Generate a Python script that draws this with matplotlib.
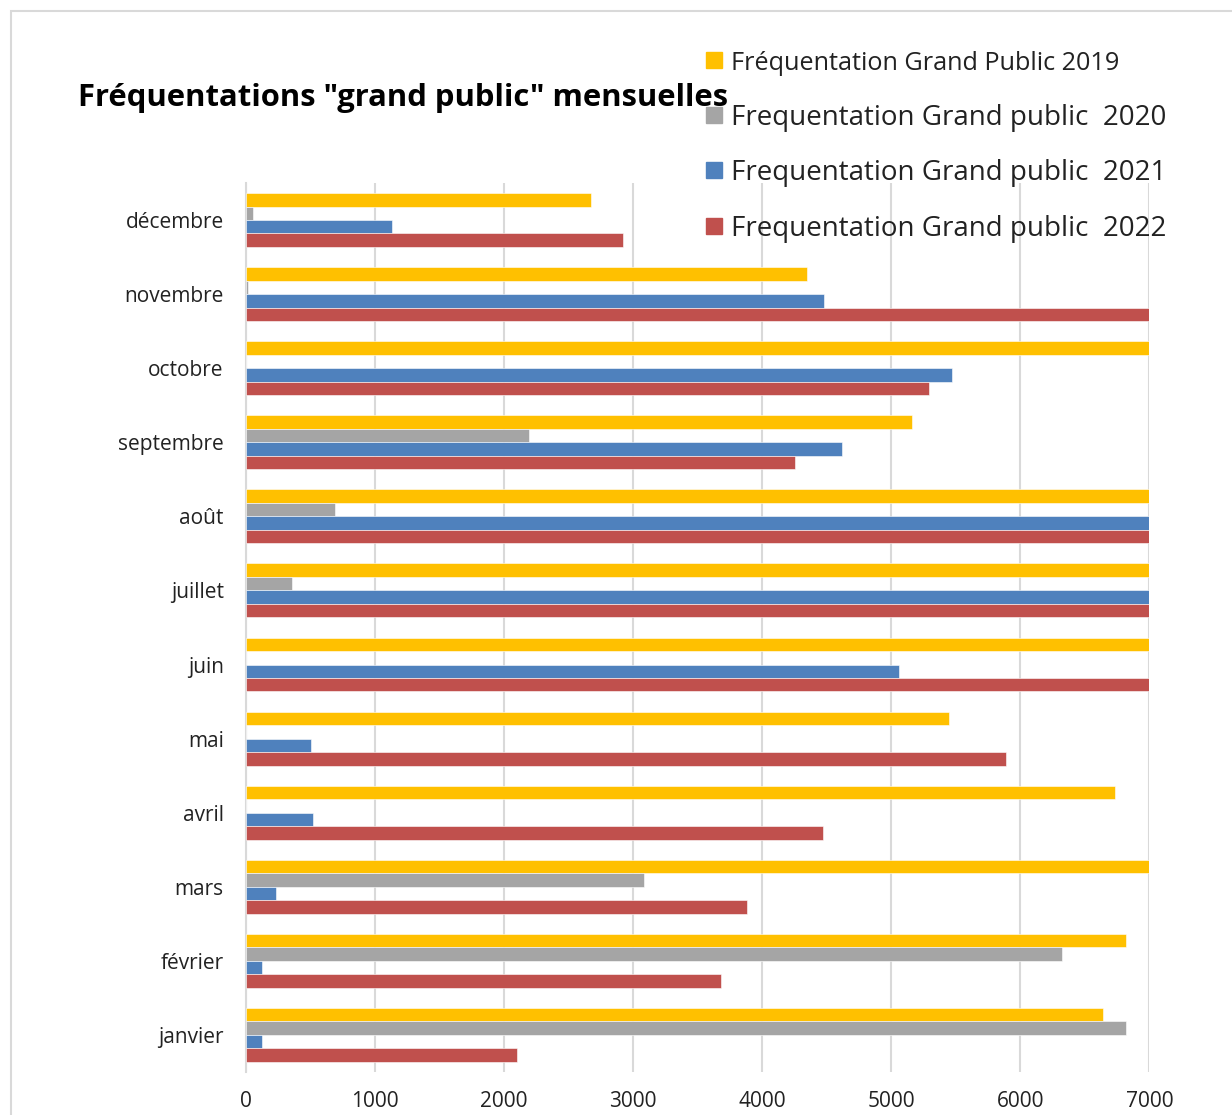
import matplotlib.pyplot as plt
import matplotlib.patches as mpatches
import numpy as np

months = ["janvier", "février", "mars", "avril", "mai", "juin",
          "juillet", "août", "septembre", "octobre", "novembre", "décembre"]

# values beyond 7000 are cut off by the axis in the reference
gp_2019 = [6640, 6820, 8200, 6730, 5450, 8900, 9800, 10200, 5160, 7900, 4350, 2670]
gp_2020 = [6820, 6320, 3080, 0, 0, 0, 360, 690, 2190, 0, 15, 55]
gp_2021 = [120, 120, 235, 520, 500, 5060, 8100, 8600, 4620, 5470, 4480, 1130]
gp_2022 = [2100, 3680, 3880, 4470, 5890, 7600, 8800, 9300, 4250, 5290, 7300, 2920]

series = [
    ("Fréquentation Grand Public 2019", gp_2019, "#FFC000"),
    ("Frequentation Grand public  2020", gp_2020, "#A5A5A5"),
    ("Frequentation Grand public  2021", gp_2021, "#4F81BD"),
    ("Frequentation Grand public  2022", gp_2022, "#C0504D"),
]

plt.rcParams['font.family'] = ['Open Sans', 'DejaVu Sans']

fig = plt.figure(figsize=(12.32, 11.15), dpi=100)
fig.patches.append(mpatches.Rectangle((11 / 1232, -0.01), 1.0, 1 - 11 / 1115 + 0.01,
                                      transform=fig.transFigure, fill=False,
                                      edgecolor="#D9D9D9", linewidth=1.5))

ax = fig.add_axes([0.1997, 0.0386, 0.7333, 0.7973])

y = np.arange(len(months))
h = 0.182
for i, (label, vals, color) in enumerate(series):
    # 2019 on top of each group, 2022 at the bottom
    offset = (1.5 - i) * h
    ax.barh(y + offset, vals, height=h, color=color, edgecolor="white",
            linewidth=0.4, label=label, zorder=3)

ax.set_xlim(0, 7000)
ax.set_ylim(-0.5, len(months) - 0.5)
ax.set_xticks(np.arange(0, 7001, 1000))
ax.set_yticks(y)
ax.set_yticklabels(months)
ax.tick_params(axis="both", length=0, labelsize=15, colors="#222222")
ax.tick_params(axis="x", pad=14)
ax.tick_params(axis="y", pad=16)
ax.grid(axis="x", color="#D9D9D9", linewidth=1.5, zorder=0)
for s in ["top", "right", "bottom"]:
    ax.spines[s].set_visible(False)
ax.spines["left"].set_color("#D9D9D9")
ax.spines["left"].set_linewidth(1.5)

fig.text(78 / 1232, 1 - 98 / 1115, 'Fréquentations "grand public" mensuelles',
         fontsize=22.3, fontweight="bold", va="center", ha="left")

# legend drawn as separate entries since text sizes differ
leg_y = [60, 115, 170, 226]
leg_size = [18.2, 20, 20, 20]
for (label, vals, color), yy, fs in zip(series, leg_y, leg_size):
    yf = 1 - yy / 1115
    fig.patches.append(mpatches.Rectangle((706 / 1232, yf - 8 / 1115), 16 / 1232, 16 / 1115,
                                          transform=fig.transFigure, color=color))
    fig.text(731 / 1232, yf - 3 / 1115, label, fontsize=fs, va="center", ha="left",
             color="#222222")

fig.savefig("out.png", dpi=100)
